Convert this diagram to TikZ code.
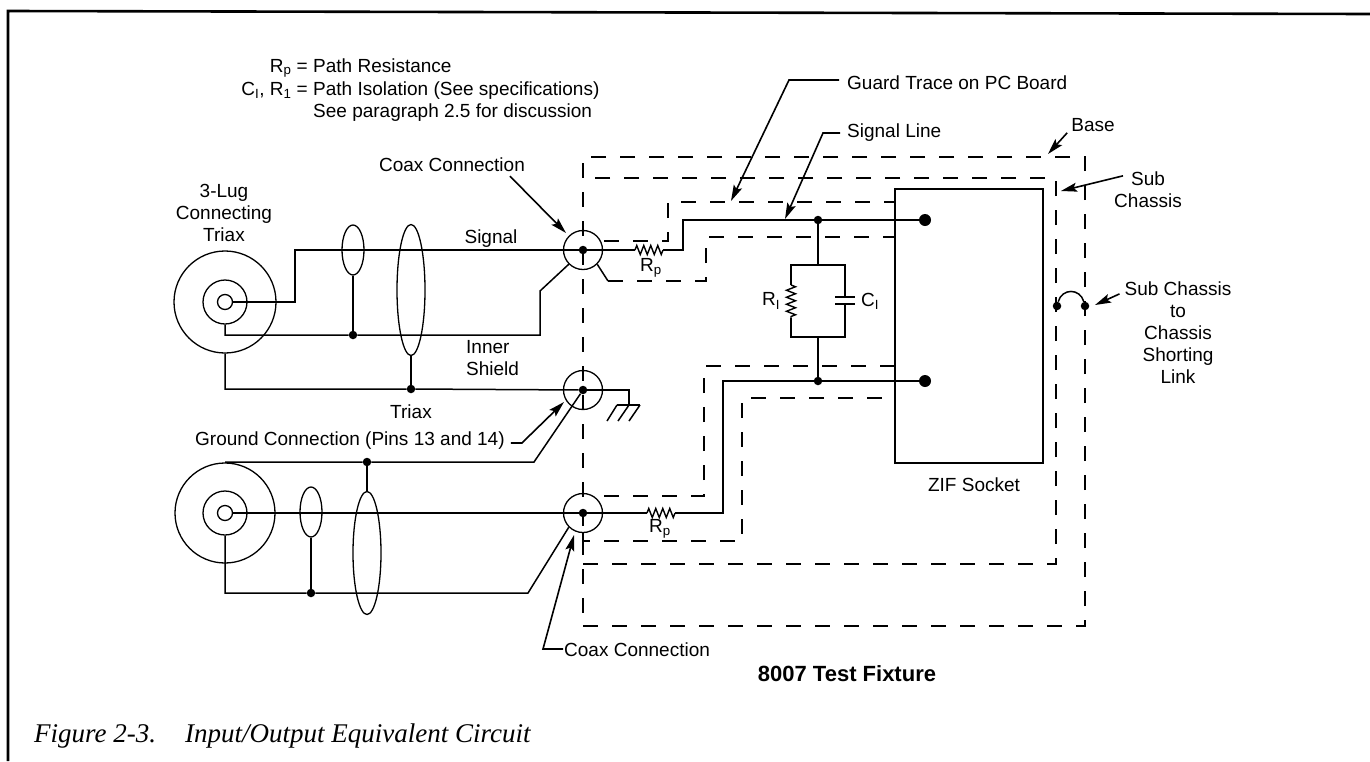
\documentclass[tikz,border=0pt]{standalone}
\usepackage{fontspec}
\setmainfont{Liberation Sans}
\newfontfamily\capfont{Liberation Serif}
\usetikzlibrary{arrows.meta,decorations.pathmorphing,shapes.geometric}
\tikzset{
  lbl/.style={inner sep=0pt,align=center,font=\fontsize{19}{22}\selectfont},
  caplbl/.style={anchor=base west,inner sep=0pt,font=\capfont\itshape\fontsize{27}{30}\selectfont},
  wire/.style={line width=1.5pt},
  guard/.style={line width=1.5pt,dash pattern=on 15pt off 14pt},
  ptr/.style={line width=1.6pt,-{Stealth[length=16pt,width=9pt,inset=3pt]}},
  dotnode/.style={circle,fill=black,inner sep=0pt,minimum size=8.5pt},
  bigdot/.style={circle,fill=black,inner sep=0pt,minimum size=12pt},
  ring/.style={circle,draw,line width=1.3pt,inner sep=0pt},
  band/.style={ellipse,draw,line width=1.3pt,inner sep=0pt},
  resist/.style={line width=1.4pt,decorate,decoration={zigzag,segment length=7pt,amplitude=4.5pt}}
}
\begin{document}
\begin{tikzpicture}[x=1pt,y=-1pt]
        \useasboundingbox (0,0) rectangle (1370,761);

        % Outer frame
        \draw[line width=2.6pt] (8,761) -- (8,11) -- (1370,14);

        % Notes
        \node[lbl,anchor=base east] (notea) at (308,72) {R\textsubscript{p} =};
        \node[lbl,anchor=base west] (noteb) at (313,72) {Path Resistance};
        \node[lbl,anchor=base east] (notec) at (308,95) {C\textsubscript{I}, R\textsubscript{1} =};
        \node[lbl,anchor=base west] (noted) at (313,95) {Path Isolation (See specifications)};
        \node[lbl,anchor=base west] (notee) at (313,117) {See paragraph 2.5 for discussion};

        % Upper triax
        \node[ring,minimum size=102pt] (triaxa) at (225,302) {};
        \node[ring,minimum size=44pt] (shielda) at (225,302) {};
        \node[ring,minimum size=15pt] (pina) at (225,302) {};
        \node[lbl] (lug) at (224,213) {3-Lug\\Connecting\\Triax};

        % Lower triax
        \node[ring,minimum size=100pt] (triaxb) at (225,513) {};
        \node[ring,minimum size=44pt] (shieldb) at (225,513) {};
        \node[ring,minimum size=15pt] (pinb) at (225,513) {};

        % Coax connections
        \node[ring,minimum size=39pt] (coaxa) at (583,250) {};
        \node[ring,minimum size=39pt] (coaxb) at (583,390) {};
        \node[ring,minimum size=39pt] (coaxc) at (583,513) {};
        \node[dotnode] (coreb) at (coaxb) {};
        \node[dotnode] (corea) at (coaxa) {};
        \node[dotnode] (corec) at (coaxc) {};

        % Cable bands
        \node[band,minimum width=22pt,minimum height=50pt] (banda) at (353,250) {};
        \node[band,minimum width=28pt,minimum height=131pt] (bandb) at (411,290) {};
        \node[band,minimum width=22pt,minimum height=50pt] (bandc) at (311,512) {};
        \node[band,minimum width=28pt,minimum height=123pt] (bandd) at (367,553) {};

        % Junctions
        \node[dotnode] (joina) at (353,335) {};
        \node[dotnode] (joinb) at (411,389) {};
        \node[dotnode] (joinc) at (367,462) {};
        \node[dotnode] (joind) at (311,593) {};
        \node[dotnode] (joine) at (818,220) {};
        \node[dotnode] (joinf) at (818,381) {};

        % ZIF socket
        \node[draw,line width=1.5pt,inner sep=0pt,minimum width=148pt,minimum height=274pt] (zif) at (969,326) {};
        \node[bigdot] (pinc) at (925,220) {};
        \node[bigdot] (pind) at (925,381) {};

        % Upper cable wiring
        \draw[wire] (pina.east) -| (295,250) -- (corea);
        \draw[wire] (shielda.south) |- (joina) -- (540,335) -- (540,291) -- (coaxa.225);
        \draw[wire] (banda.south) -- (joina);
        \draw[wire] (bandb.south) -- (joinb);
        \draw[wire] (triaxa.south) |- (joinb) -- (coreb);

        % Lower cable wiring
        \draw[wire] (pinb.east) -- (corec);
        \draw[wire] (shieldb.south) |- (joind) -- (528,593) -- (coaxc.225);
        \draw[wire] (bandc.south) -- (joind);
        \draw[wire] (bandd.north) -- (joinc);
        \draw[wire] (triaxb.north |- joinc) -- (joinc) -- (534,462) -- (coreb);

        % Ground
        \coordinate (gnd) at (629,405);
        \draw[wire] (coreb) -| (gnd);
        \draw[wire] (617,405) -- (640,405);
        \draw[wire] (617,405) -- (607,421) (629,405) -- (618,421) (640,405) -- (629,421);

        % Signal lines
        \coordinate (ra) at (635,250);
        \coordinate (rb) at (663,250);
        \coordinate (rc) at (647,513);
        \coordinate (rd) at (675,513);
        \draw[wire] (corea) -- (ra);
        \draw[resist] (ra) -- (rb);
        \draw[wire] (rb) -- (683,250) -- (683,220) -- (joine) -- (pinc);
        \draw[wire] (corec) -- (rc);
        \draw[resist] (rc) -- (rd);
        \draw[wire] (rd) -- (723,513) -- (723,381) -- (joinf) -- (pind);
        \node[lbl] (rpa) at (651,268) {R\textsubscript{p}};
        \node[lbl] (rpb) at (660,529) {R\textsubscript{p}};

        % Isolation network
        \coordinate (neta) at (818,265);
        \coordinate (netb) at (818,337);
        \coordinate (rtop) at (791,285);
        \coordinate (rbot) at (791,318);
        \coordinate (ctop) at (845,297);
        \coordinate (cbot) at (845,304);
        \draw[wire] (joine) -- (neta);
        \draw[wire] (joinf) -- (netb);
        \draw[wire] (neta) -| (rtop);
        \draw[wire] (netb) -| (rbot);
        \draw[resist] (rtop) -- (rbot);
        \draw[wire] (neta) -| (ctop);
        \draw[wire] (netb) -| (cbot);
        \draw[line width=1.6pt] (835,297) -- (855,297) (835,304) -- (855,304);
        \node[lbl] (ri) at (771,301) {R\textsubscript{I}};
        \node[lbl] (ci) at (870,301) {C\textsubscript{I}};

        % Guard traces
        \coordinate (stub) at (608,281);
        \draw[guard] (604,241) -- (668,241) -- (668,202) -- (zif.west |- 0,202);
        \draw[wire] (coaxa.-45) -- (stub);
        \draw[guard] (stub) -- (706,281) -- (706,237) -- (zif.west |- 0,237);
        \draw[guard] (604,496) -- (704,496) -- (704,366) -- (zif.west |- 0,366);
        \draw[guard] (coaxc.south) -- (583,541) -- (742,541) -- (742,398) -- (zif.west |- 0,398);

        % Sub chassis and base
        \draw[guard] (583,564) -- (1056,564) -- (1056,178) -- (583,178);
        \draw[guard] (583,626) -- (1085,626) -- (1085,157) -- (583,157) -- cycle;
        \node[dotnode] (linka) at (1057,306) {};
        \node[dotnode] (linkb) at (1085,306) {};
        \draw[wire] (linka) .. controls (1062,288) and (1080,288) .. (linkb);

        % Labels with no pointer
        \node[lbl] (sig) at (491,239) {Signal};
        \node[lbl,anchor=north west,align=left] (inner) at (466,340) {Inner\\Shield};
        \node[lbl] (trx) at (411,412) {Triax};
        \node[lbl] (zifl) at (974,485) {ZIF Socket};
        \node[lbl,font=\fontsize{22}{24}\selectfont\bfseries] (fixture) at (847,674) {8007 Test Fixture};

        % Pointers
        \node[lbl] (coaxtop) at (452,165) {Coax Connection};
        \coordinate (tipa) at (566,233);
        \draw[ptr] (coaxtop.south) ++(58,4) -- (tipa);
        \node[lbl,anchor=west] (grnd) at (195,441) {Ground Connection (Pins 13 and 14)};
        \coordinate (tipb) at (564,402);
        \draw[ptr] (grnd.east) ++(6,2) -- ++(11,0) -- (tipb);
        \node[lbl,anchor=west] (coaxbot) at (564,650) {Coax Connection};
        \coordinate (tipc) at (574,535);
        \draw[ptr] (coaxbot.west) ++(-1,-1) -- (543,649) -- (tipc);
        \node[lbl,anchor=west] (gtrace) at (847,83) {Guard Trace on PC Board};
        \coordinate (tipd) at (731,201);
        \draw[ptr] (gtrace.west) ++(-8,-3) -- (789,80) -- (tipd);
        \node[lbl,anchor=west] (sline) at (847,133) {Signal Line};
        \coordinate (tipe) at (785,219);
        \draw[ptr] (sline.west) ++(-7,0) -- (823,133) -- (tipe);
        \node[lbl] (basel) at (1093,125) {Base};
        \coordinate (tipf) at (1048,154);
        \draw[ptr] (basel.south west) ++(-4,1) -- (tipf);
        \node[lbl] (subl) at (1148,190) {Sub\\Chassis};
        \coordinate (tipg) at (1061,191);
        \draw[ptr] (subl.north west) ++(9,4) -- (tipg);
        \node[lbl] (shortl) at (1178,333) {Sub Chassis\\to\\Chassis\\Shorting\\Link};
        \coordinate (tiph) at (1095,305);
        \draw[ptr] (shortl.north west) ++(-5,12) -- (tiph);

        % Caption
        \node[caplbl] (capa) at (34,742) {Figure 2-3.};
        \node[caplbl] (capb) at (185,742) {Input/Output Equivalent Circuit};
\end{tikzpicture}
\end{document}
